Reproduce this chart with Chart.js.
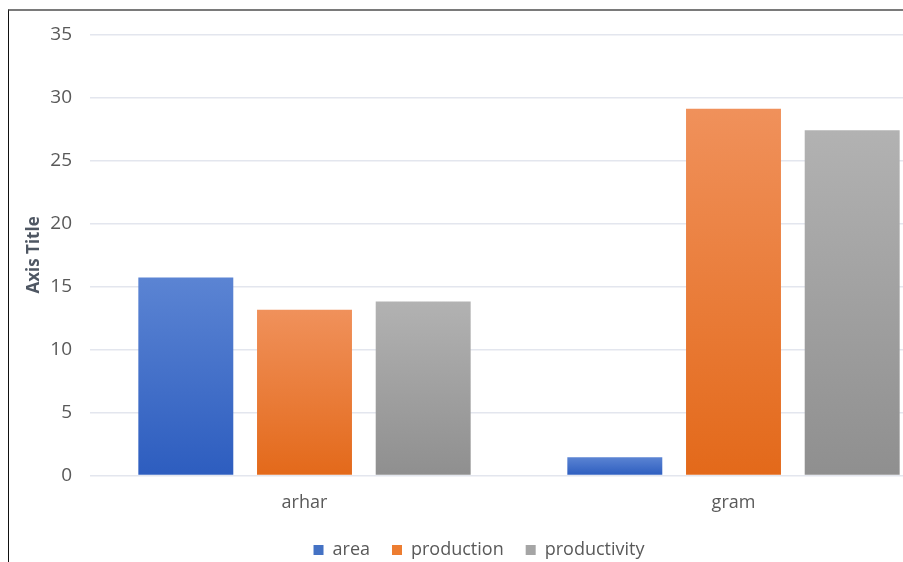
<!DOCTYPE html>
<html>
<head>
<meta charset="utf-8">
<script src="https://cdn.jsdelivr.net/npm/chart.js@4"></script>
<style>
  html, body { margin: 0; padding: 0; background: #fff; overflow: hidden; }
  #page { position: relative; width: 903px; height: 562px; overflow: hidden; }
  #frame {
    position: absolute; left: 8px; top: 9px; width: 1000px; height: 600px;
    border-left: 1.5px solid #111; border-top: 2px solid #7a7a7a;
  }
  #cropChart { position: absolute; left: 1px; top: -6px; }
</style>
</head>
<body>
<div id="page">
  <div id="frame">
    <canvas id="cropChart" width="950" height="566"></canvas>
  </div>
</div>
<script>
// ---------------- DATA ----------------

const crops = ["arhar", "gram"];

const area = [15.7, 1.45];
const production = [13.15, 29.1];
const productivity = [13.8, 27.4];

const yTicks = [0, 5, 10, 15, 20, 25, 30, 35];

const FONT = "'Open Sans', 'DejaVu Sans', sans-serif";
const TEXT = "#595959";


// vertical gradient from the top of each bar down to the zero line
function barGradient(top, bottom) {
    return function (ctx) {
        const chart = ctx.chart;
        if (!chart.chartArea || ctx.raw === undefined) return bottom;
        const y = chart.scales.y;
        const y1 = y.getPixelForValue(ctx.raw);
        const y0 = y.getPixelForValue(0);
        const g = chart.ctx.createLinearGradient(0, y1, 0, y0);
        g.addColorStop(0, top);
        g.addColorStop(1, bottom);
        return g;
    };
}


// ---------------- BAR CHART ----------------

const cropCtx =
document.getElementById("cropChart");

new Chart(cropCtx, {

    type: "bar",

    data: {

        labels: crops,

        datasets: [
            {
                label: "area",
                data: area,
                backgroundColor: barGradient("#5b84d3", "#2d5dbf"),
                legendColor: "#4472c4"
            },
            {
                label: "production",
                data: production,
                backgroundColor: barGradient("#f0915b", "#e3691a"),
                legendColor: "#ed7d31"
            },
            {
                label: "productivity",
                data: productivity,
                backgroundColor: barGradient("#b2b2b2", "#8f8f8f"),
                legendColor: "#a5a5a5"
            }
        ]
    },

    options: {

        responsive: false,
        animation: false,

        categoryPercentage: 0.83,
        barPercentage: 0.8,

        layout: {
            padding: { top: 4, right: 12, left: 0, bottom: 2 }
        },

        scales: {

            x: {
                grid: { display: false, drawTicks: false },
                border: { display: false },
                afterFit: function (scale) {
                    scale.height = scale.height - 12;
                },
                ticks: {
                    color: TEXT,
                    padding: 17,
                    font: { family: FONT, size: 18 }
                }
            },

            y: {
                min: 0,
                max: 35,
                afterBuildTicks: function (scale) {
                    scale.ticks = yTicks.map(v => ({ value: v }));
                },
                afterFit: function (scale) {
                    scale.width = 80;
                },
                grid: { color: "#e3e6ee", lineWidth: 1.5, drawTicks: false },
                border: { display: false },
                ticks: {
                    color: TEXT,
                    padding: 18,
                    font: { family: FONT, size: 19 }
                },
                title: {
                    display: true,
                    text: "Axis Title",
                    color: "#4f5763",
                    padding: { top: 14, bottom: 8 },
                    font: { family: FONT, size: 17, weight: "bold" }
                }
            }
        },

        plugins: {

            legend: {
                position: "bottom",
                labels: {
                    color: TEXT,
                    boxWidth: 10,
                    boxHeight: 10,
                    padding: 22,
                    font: { family: FONT, size: 18 },
                    generateLabels: function (chart) {
                        return chart.data.datasets.map((ds, i) => ({
                            text: ds.label,
                            fillStyle: ds.legendColor,
                            strokeStyle: ds.legendColor,
                            lineWidth: 0,
                            fontColor: TEXT,
                            datasetIndex: i,
                            hidden: false
                        }));
                    }
                }
            },

            tooltip: { enabled: false }
        }
    }
});
</script>
</body>
</html>
